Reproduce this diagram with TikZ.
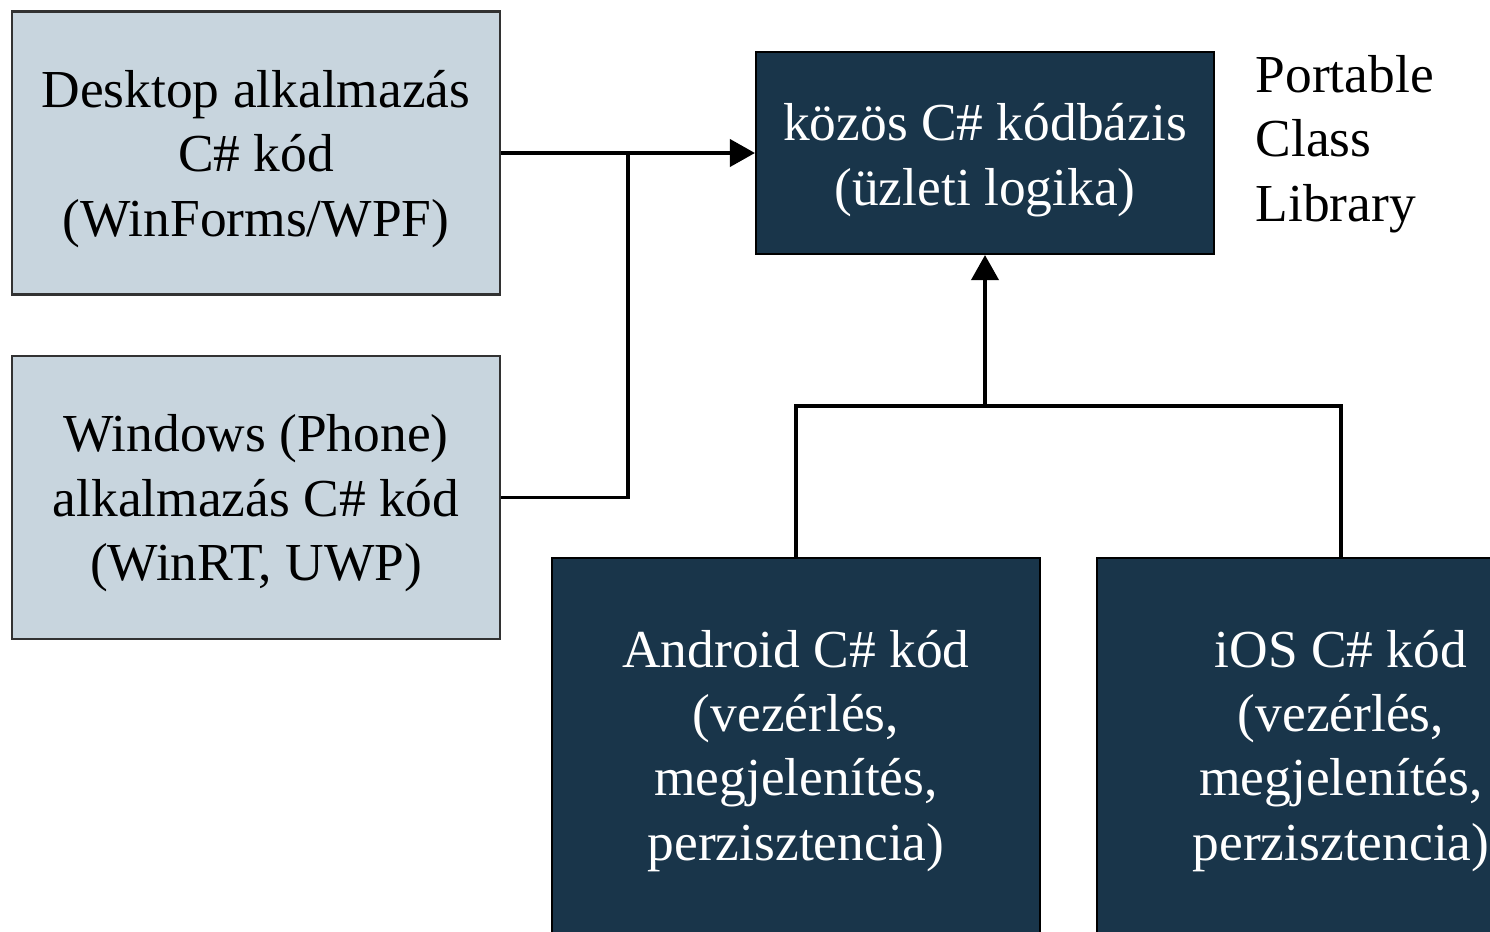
\documentclass[tikz,border=0pt]{standalone}
\usepackage{fontspec}
\setmainfont{Liberation Serif}
\usetikzlibrary{arrows.meta,positioning,calc}
\definecolor{boxgray}{RGB}{200,213,222}
\definecolor{boxnavy}{RGB}{25,53,74}
\definecolor{edgegray}{RGB}{50,50,50}
\tikzstyle{lightbox} = [rectangle, draw=edgegray, line width=0.6pt, fill=boxgray, minimum width=4.88cm, minimum height=2.83cm, align=center, text=black, text height=1.66cm, text depth=0cm]
\tikzstyle{darkbox} = [rectangle, draw=black, line width=0.6pt, fill=boxnavy, align=center, text=white, text depth=0cm]
\tikzstyle{arrow} = [line width=1.1pt,-{Triangle[length=2.5mm,width=2.7mm]}]
\tikzstyle{line} = [line width=1.1pt]

\begin{document}
\begin{tikzpicture}[font=\fontsize{15.2}{18.3}\selectfont]
\useasboundingbox (0,0) rectangle (14.9,9.31);
\clip (0,0) rectangle (14.9,9.31);
% client projects
\node (desk) [lightbox] at (2.56,7.78) {Desktop alkalmazás\\C\# kód\\(WinForms/WPF)};
\node (win) [lightbox] at (2.56,4.335) {Windows (Phone)\\alkalmazás C\# kód\\(WinRT, UWP)};
% shared code
\node (common) [darkbox, minimum width=4.58cm, minimum height=2.02cm, text height=1.04cm] at (9.85,7.78) {közös C\# kódbázis\\(üzleti logika)};
\node (pcl) [anchor=base west, align=left, inner sep=0pt] at (12.55,7.10) {Portable\\Class\\Library};
% platform projects
\node (android) [darkbox, minimum width=4.88cm, minimum height=3.82cm, text height=2.22cm] at (7.96,1.82) {Android C\# kód\\(vezérlés,\\megjelenítés,\\perzisztencia)};
\node (ios) [darkbox, minimum width=4.88cm, minimum height=3.82cm, text height=2.22cm] at (13.41,1.82) {iOS C\# kód\\(vezérlés,\\megjelenítés,\\perzisztencia)};
\coordinate (mid) at (6.28,7.78);
\coordinate (bar) at (9.85,5.25);
\draw[arrow] (desk.east) -- (common.west);
\draw[line] (win.east) -| (mid);
\draw[line] (android.north) |- (bar) -| (ios.north);
\draw[arrow] (bar) -- (common.south);
\end{tikzpicture}
\end{document}
